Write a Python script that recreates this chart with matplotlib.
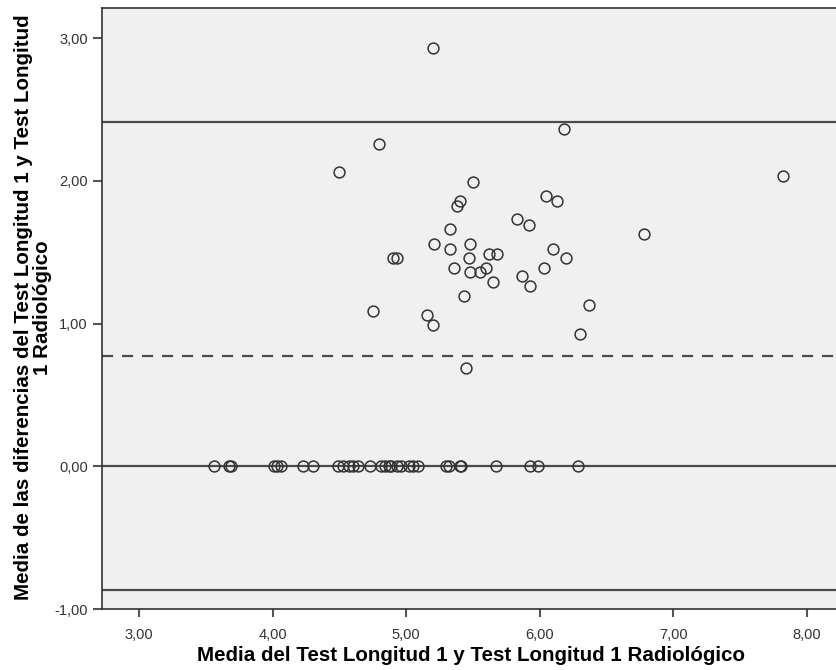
import matplotlib
matplotlib.use("Agg")
import matplotlib.pyplot as plt
import numpy as np

# Media de ambas mediciones (eje X) y diferencia (eje Y)
media_dif = [5.20, 6.18, 4.80, 4.50, 5.50, 5.40, 5.38, 6.05, 6.13, 5.83,
             5.92, 6.78, 5.33, 5.21, 5.48, 5.33, 6.10, 5.62, 5.68, 4.90,
             4.93, 5.47, 6.20, 5.36, 5.60, 6.03, 5.48, 5.55, 5.65, 5.87,
             5.93, 5.43, 6.37, 4.75, 5.16, 5.20, 6.30, 5.45, 7.82]
diferencias = [2.93, 2.36, 2.26, 2.06, 1.99, 1.86, 1.82, 1.89, 1.86, 1.73,
               1.69, 1.63, 1.66, 1.56, 1.56, 1.52, 1.52, 1.49, 1.49, 1.46,
               1.46, 1.46, 1.46, 1.39, 1.39, 1.39, 1.36, 1.36, 1.29, 1.33,
               1.26, 1.19, 1.13, 1.09, 1.06, 0.99, 0.93, 0.69, 2.03]

# Casos sin diferencia entre ambas mediciones
media_cero = [3.56, 3.67, 3.69, 4.01, 4.03, 4.06, 4.23, 4.30,
              4.49, 4.53, 4.57, 4.60, 4.64, 4.73, 4.81, 4.84, 4.87,
              4.89, 4.93, 4.96, 5.02, 5.05, 5.09, 5.30, 5.32, 5.40,
              5.41, 5.67, 5.93, 5.99, 6.29]

media_diferencias = 0.77
limite_sup = 2.41
limite_inf = -0.87

x_ticks = [3, 4, 5, 6, 7, 8]
y_ticks = [-1, 0, 1, 2, 3]

plt.rcParams['font.family'] = ['Liberation Sans', 'DejaVu Sans']

fig = plt.figure(figsize=(8.36, 6.70), dpi=100)
ax = fig.add_axes([0.1217, 0.091, 1 - 0.1217, 0.897])
ax.set_facecolor('#f0f0f0')

x_all = media_dif + media_cero
y_all = diferencias + [0.0] * len(media_cero)

# Lineas de referencia: cero, media y limites de acuerdo
ax.axhline(0, color='#4a4a4a', linewidth=1.6, zorder=2)
ax.axhline(limite_sup, color='#4a4a4a', linewidth=1.6, zorder=2)
ax.axhline(limite_inf, color='#4a4a4a', linewidth=1.6, zorder=2)
ax.axhline(media_diferencias, color='#4a4a4a', linewidth=1.6,
           linestyle=(0, (5, 4)), zorder=2)

ax.plot(x_all, y_all, linestyle='none', marker='o', markersize=7.8,
        markerfacecolor='none', markeredgecolor='#333333',
        markeredgewidth=1.1, zorder=3)

ax.set_xlim(2.72, 8.22)
ax.set_ylim(-1.0, 3.21)
ax.set_xticks(x_ticks)
ax.set_yticks(y_ticks)
ax.set_xticklabels([f"{t:.2f}".replace('.', ',') for t in x_ticks])
ax.set_yticklabels([f"{t:.2f}".replace('.', ',') for t in y_ticks])
ax.tick_params(axis='y', length=6.5, width=1.5, color='#555555',
               labelsize=10.5, labelcolor='#333333', pad=3.5)
ax.tick_params(axis='x', length=6, width=1.5, color='#555555',
               labelsize=10.5, labelcolor='#333333', pad=8)

for side in ['left', 'bottom', 'top']:
    ax.spines[side].set_color('#333333')
    ax.spines[side].set_linewidth(1.2)
ax.spines['right'].set_visible(False)

ax.set_xlabel("Media del Test Longitud 1 y Test Longitud 1 Radiológico",
              fontsize=14.8, fontweight='bold')
ax.xaxis.set_label_coords(0.503, -0.061)
ax.set_ylabel("Media de las diferencias del Test Longitud 1 y Test Longitud\n1 Radiológico",
              fontsize=14.8, fontweight='bold', linespacing=1.0)
ax.yaxis.set_label_coords(-0.068, 0.502)

fig.savefig("out.png", dpi=100)
